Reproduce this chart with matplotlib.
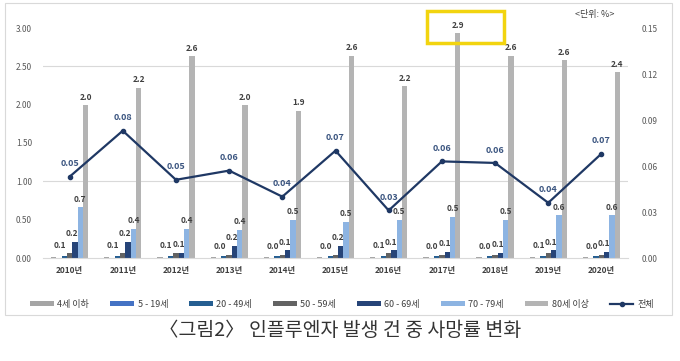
import matplotlib.pyplot as plt
import numpy as np
from matplotlib.patches import Rectangle

plt.rcParams['font.family'] = ['Noto Sans CJK KR', 'DejaVu Sans']

years = ["2010년", "2011년", "2012년", "2013년", "2014년", "2015년",
         "2016년", "2017년", "2018년", "2019년", "2020년"]
series_names = ["4세 이하", "5 - 19세", "20 - 49세", "50 - 59세",
                "60 - 69세", "70 - 79세", "80세 이상"]

age_0_4 = [0.01, 0.01, 0.01, 0.01, 0.01, 0.01, 0.01, 0.01, 0.01, 0.01, 0.01]
age_5_19 = [0.005, 0.005, 0.005, 0.005, 0.005, 0.005, 0.005, 0.005, 0.005, 0.005, 0.005]
age_20_49 = [0.02, 0.02, 0.02, 0.02, 0.02, 0.02, 0.02, 0.02, 0.02, 0.02, 0.02]
age_50_59 = [0.06, 0.06, 0.06, 0.04, 0.04, 0.04, 0.06, 0.04, 0.04, 0.06, 0.04]
age_60_69 = [0.21, 0.21, 0.07, 0.16, 0.10, 0.16, 0.10, 0.08, 0.07, 0.10, 0.08]
age_70_79 = [0.66, 0.38, 0.38, 0.37, 0.50, 0.47, 0.50, 0.54, 0.50, 0.56, 0.56]
age_80_up = [1.99, 2.22, 2.63, 1.99, 1.92, 2.64, 2.24, 2.93, 2.64, 2.58, 2.42]
total = [0.053, 0.083, 0.051, 0.057, 0.040, 0.070, 0.031, 0.063, 0.062, 0.036, 0.068]
total_name = "전체"
highlight_year = "2017년"

series = [age_0_4, age_5_19, age_20_49, age_50_59, age_60_69, age_70_79, age_80_up]
colors = ['#A5A5A5', '#4472C4', '#255E91', '#636363', '#264478', '#8DB4E2', '#B4B4B4']
labeled = [False, False, False, True, True, True, True]
label_dx = [0, 0, 0, -7, -2, 0, 0]

fig = plt.figure(figsize=(6.8, 3.61), dpi=100)
ax = fig.add_axes([43/680, 103/361, 585/680, 230/361])
ax2 = ax.twinx()

x = np.arange(len(years))
w = 0.1
handles = []
for i, (vals, c) in enumerate(zip(series, colors)):
    xs = x + (i - 3) * w
    b = ax.bar(xs, vals, width=w, color=c, label=series_names[i])
    handles.append(b)
    if labeled[i]:
        for xi, v in zip(xs, vals):
            ax.annotate(f"{v:.1f}", (xi, v), xytext=(label_dx[i], 2.5),
                        textcoords='offset points', ha='center', va='bottom',
                        fontsize=6, fontweight='bold', color='#404040')

line, = ax2.plot(x, total, color='#1F3864', lw=1.6, marker='o', ms=3, label=total_name)
handles.append(line)
for xi, v in zip(x, total):
    ax2.annotate(f"{v:.2f}", (xi, v), xytext=(0, 6), textcoords='offset points',
                 ha='center', va='bottom', fontsize=6.5, fontweight='bold', color='#3B5580')

ax.set_xlim(-0.5, len(years) - 0.5)
ax.set_ylim(0, 3)
ax2.set_ylim(0, 0.15)
lt = np.arange(0, 3.01, 0.5)
ax.set_yticks(lt, [f"{t:.2f}" for t in lt])
rt = np.arange(0, 0.151, 0.03)
ax2.set_yticks(rt, [f"{t:.2f}" for t in rt])
ax.set_xticks(x, years)

for a in (ax, ax2):
    for s in a.spines.values():
        s.set_visible(False)
    a.tick_params(length=0, labelsize=6, labelcolor='#595959')
ax.tick_params(axis='y', pad=8)
ax2.tick_params(axis='y', pad=10)
ax.tick_params(axis='x', pad=6)
for t in ax.get_xticklabels():
    t.set_fontweight('bold')
    t.set_color('#404040')

ax.spines['bottom'].set_visible(True)
ax.spines['bottom'].set_color('#D9D9D9')
for yv in (1.0, 2.5):
    ax.axhline(yv, color='#D9D9D9', lw=0.8, zorder=0)

hx = years.index(highlight_year)
ax.add_patch(Rectangle((hx - 0.28, 2.81), 1.45, 0.41, fill=False,
                       edgecolor='#F2D40F', lw=2.5, clip_on=False, zorder=5))

fig.legend(handles, series_names + [total_name], loc='center',
           bbox_to_anchor=(342/680, 1 - 304/361), ncol=8, frameon=False,
           fontsize=6.5, handlelength=2.6, handleheight=0.45,
           columnspacing=2.35, handletextpad=0.4, labelcolor='#404040')

fig.patches.append(Rectangle((5/680, 46/361), 667/680, 312/361,
                             transform=fig.transFigure, fill=False,
                             edgecolor='#D9D9D9', lw=0.8))
fig.text(595/680, 1 - 15/361, "<단위: %>", fontsize=6.5, ha='center', va='center', color='#404040')
fig.text(0.5, 1 - 331/361, "〈그림2〉 인플루엔자 발생 건 중 사망률 변화",
         ha='center', va='center', fontsize=14, color='#333333')

fig.savefig("out.png", dpi=100)
